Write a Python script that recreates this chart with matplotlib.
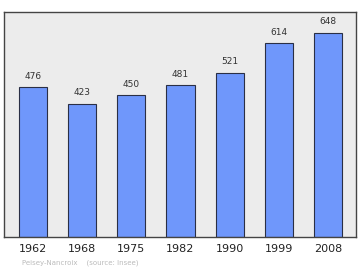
import matplotlib
matplotlib.use("Agg")
import matplotlib.pyplot as plt

years = ["1962", "1968", "1975", "1982", "1990", "1999", "2008"]
population = [476, 423, 450, 481, 521, 614, 648]

fig = plt.figure(figsize=(3.6, 2.7), dpi=100)
ax = fig.add_axes([0.011, 0.122, 0.978, 0.834])
ax.set_facecolor("#ececec")

x = range(len(years))
ax.bar(x, population, width=0.57, color="#6f97fb", edgecolor="#2a2f45", linewidth=0.8)
for xi, v in zip(x, population):
    ax.text(xi, v + 20, str(v), ha="center", va="bottom", fontsize=6.5, color="#333333")

ax.set_xlim(-0.59, 6.57)
ax.set_ylim(0, 714)
ax.set_yticks([])
ax.set_xticks(list(x))
ax.set_xticklabels(years, fontsize=8, color="#222222")
ax.tick_params(axis="x", length=0, pad=5)
for s in ax.spines.values():
    s.set_color("#444444")
    s.set_linewidth(1.0)

fig.text(0.06, 0.022, "Peisey-Nancroix    (source: Insee)", fontsize=5, color="#bbbbbb")

fig.savefig("out.png", dpi=100)
